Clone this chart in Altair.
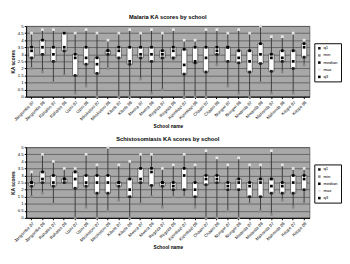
import altair as alt
import pandas as pd

schools = ["Jangombe 07", "Jangombe 08", "Rahaleo 07", "Rahaleo 08", "Uzini 07", "Uzini 08",
           "Mkokotoni 07", "Mkokotoni 08", "Kibele 07", "Kibele 08", "Mwera 07", "Mwera 08",
           "Regeza 07", "Regeza 08", "Kizimkazi 07", "Kizimkazi 08", "Chaani 07", "Chaani 08",
           "Nungwi 07", "Nungwi 08", "Mwanda 07", "Mwanda 08", "Mahonda 07", "Mahonda 08",
           "Kitope 07", "Kitope 08"]

mal_min = [2.0, 1.75, 1.0, 1.5, 0.25, 0.75, 0.0, 2.0, 0.0, 0.0, 1.25, 0.25, 0.5,
           2.5, 0.0, 0.0, 0.0, 2.25, 0.75, 0.25, 0.0, 1.0, 0.25, 1.75, 0.25, 2.25]
mal_q1 = [2.75, 3.0, 2.5, 3.25, 1.5, 2.3, 1.65, 3.0, 2.75, 2.3, 2.75, 2.5, 2.75,
          2.75, 1.6, 2.4, 1.75, 3.0, 2.5, 2.4, 1.75, 2.35, 1.8, 2.5, 2.0, 2.8]
mal_med = [3.25, 3.5, 3.0, 3.5, 2.75, 2.75, 2.3, 3.25, 3.25, 2.5, 3.0, 3.0, 3.0,
           3.25, 2.25, 2.5, 2.75, 3.25, 3.5, 2.75, 2.5, 3.0, 2.75, 2.75, 2.5, 3.5]
mal_q3 = [3.5, 4.0, 3.5, 4.5, 3.0, 3.5, 2.75, 3.25, 3.5, 3.5, 3.5, 3.5, 3.25,
          3.5, 3.35, 3.5, 3.5, 3.5, 3.5, 3.25, 3.25, 3.75, 3.0, 3.25, 3.25, 3.75]
mal_max = [4.5, 4.75, 4.75, 4.5, 4.5, 4.75, 4.5, 4.0, 4.5, 4.75, 4.5, 4.75, 4.5,
           4.75, 4.0, 4.0, 4.75, 4.75, 4.5, 4.75, 4.5, 5.0, 4.25, 4.25, 4.5, 4.0]

sch_min = [1.5, 1.75, 1.0, 2.5, 0.0, 0.75, 0.0, 0.5, 1.25, 0.0, 1.0, 1.5, 0.75,
           1.5, 1.5, 0.75, 0.0, 0.0, 0.5, 0.0, 1.0, 0.5, 0.25, 1.25, 0.75, 1.0]
sch_q1 = [2.25, 2.5, 2.25, 2.5, 2.1, 2.25, 1.75, 1.75, 2.25, 1.5, 2.5, 2.3, 2.25,
          2.0, 2.0, 1.5, 2.35, 2.5, 2.0, 2.0, 1.5, 1.5, 1.75, 1.75, 1.75, 2.0]
sch_med = [2.5, 2.75, 2.5, 2.75, 2.75, 2.5, 2.5, 2.5, 2.5, 2.0, 2.75, 3.25, 2.5,
           2.25, 3.0, 2.0, 2.75, 2.75, 2.25, 2.5, 2.25, 2.5, 2.25, 2.25, 2.5, 2.75]
sch_q3 = [2.5, 3.25, 3.0, 2.75, 3.25, 3.0, 3.0, 3.0, 2.5, 2.75, 3.5, 3.5, 2.5,
          2.5, 3.5, 2.5, 3.0, 3.0, 2.5, 2.75, 2.5, 2.75, 2.75, 2.5, 3.0, 3.0]
sch_max = [3.25, 4.5, 4.0, 3.5, 3.5, 4.5, 3.75, 5.0, 3.75, 4.0, 4.5, 4.5, 3.5,
           3.75, 4.5, 3.75, 4.75, 4.25, 3.75, 4.25, 3.75, 3.75, 4.75, 3.75, 3.5, 3.5]

stats = ["q1", "min", "median", "max", "q3"]
stat_colors = ["#1c1c1c", "#8a8a8a", "#000000", "#e6e6e6", "#000000"]
ytick_values = [0, 0.5, 1, 1.5, 2, 2.5, 3, 3.5, 4, 4.5, 5]

PW, PH = 297, 74
FONT = "Liberation Sans"


def make_df(mn, q1, med, q3, mx):
    return pd.DataFrame({"school": schools, "min": mn, "q1": q1, "median": med,
                         "q3": q3, "max": mx})


def panel(title, df):
    xenc = alt.X("school:N", sort=schools, title="School name",
                 axis=alt.Axis(labelAngle=-45, labelFontSize=4.5, labelPadding=1,
                               tickSize=2, titleFontSize=5, titleFontWeight="bold",
                               titlePadding=3, domainColor="#000", tickColor="#000",
                               labelColor="#000", grid=False))
    yscale = alt.Scale(domain=[0, 5], nice=False)
    yaxis = alt.Axis(values=ytick_values, format="~g", labelFontSize=4.5,
                     labelPadding=1, tickSize=2, titleFontSize=5, titleFontWeight="bold",
                     titlePadding=2, grid=True, gridColor="#555555", gridWidth=0.8,
                     domainColor="#000", tickColor="#000", labelColor="#000",
                     labelOverlap=False)
    base = alt.Chart(df)
    whisk = base.mark_rule(color="#3c3c3c", strokeWidth=1).encode(
        x=xenc, y=alt.Y("min:Q", scale=yscale, axis=yaxis, title="KA scores"), y2="max:Q")
    box = base.mark_bar(fill="white", stroke="#000", strokeWidth=0.5, size=5.5).encode(
        x=xenc, y=alt.Y("q1:Q", scale=yscale, axis=yaxis, title="KA scores"), y2="q3:Q")
    pts = base.transform_fold(stats, as_=["stat", "value"]).transform_calculate(
        ord="indexof(['min','max','q1','median','q3'], datum.stat)"
    ).mark_point(shape="square", filled=True, size=8, opacity=1).encode(
        x=xenc, y=alt.Y("value:Q", scale=yscale, axis=yaxis, title="KA scores"),
        color=alt.Color("stat:N", scale=alt.Scale(domain=stats, range=stat_colors),
                        legend=alt.Legend(orient="none", legendX=PW + 5, legendY=18,
                                          title=None, labelFontSize=4.5, symbolSize=7,
                                          symbolType="square", rowPadding=2.5,
                                          padding=3, strokeColor="#000",
                                          fillColor="white", labelColor="#000",
                                          symbolStrokeWidth=0, labelOffset=2)),
        order="ord:Q")
    return alt.layer(whisk, box, pts).properties(
        width=PW, height=PH,
        title=alt.TitleParams(title, fontSize=6, fontWeight="bold", anchor="middle",
                              offset=3, color="#000", font=FONT))


p1 = panel("Malaria KA scores by school",
           make_df(mal_min, mal_q1, mal_med, mal_q3, mal_max))
p2 = panel("Schistosomiasis KA scores by school",
           make_df(sch_min, sch_q1, sch_med, sch_q3, sch_max))

chart = alt.vconcat(p1, p2, spacing=6).resolve_legend(color="independent").properties(
    padding={"left": 2, "top": 0, "right": 0, "bottom": 0}
).configure(font=FONT).configure_view(fill="#a8a8a8", stroke="#555", strokeWidth=0.8)

chart.save("out.html", embed_options={"renderer": "svg", "actions": False})
